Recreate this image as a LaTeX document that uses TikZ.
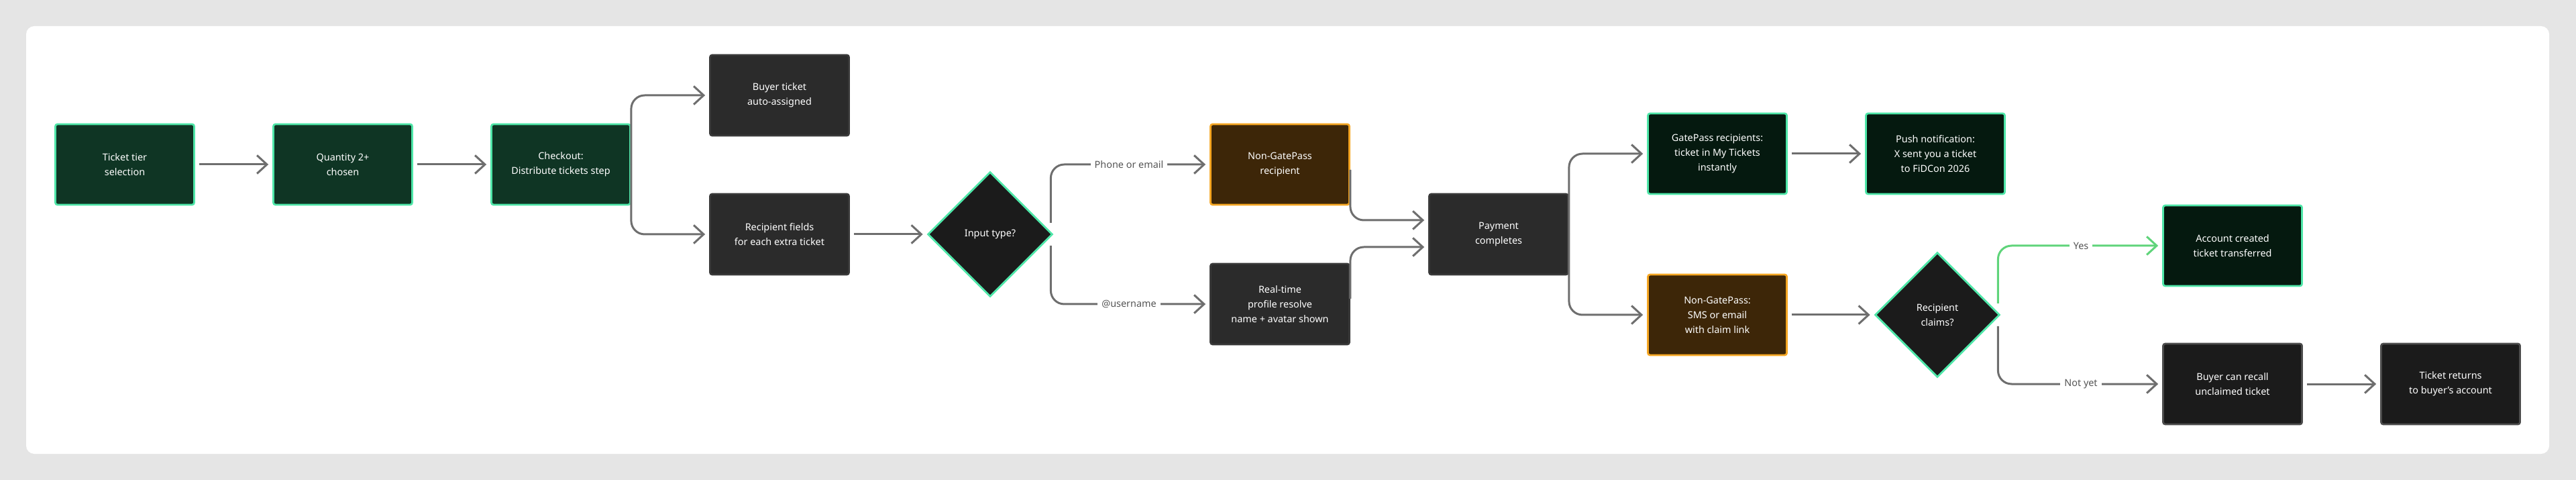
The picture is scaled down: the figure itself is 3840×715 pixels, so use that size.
\documentclass[tikz,border=0pt]{standalone}
\usepackage{fontspec}
\setmainfont{Noto Sans}
\usetikzlibrary{arrows.meta,shapes.geometric,calc}
\definecolor{bg}{HTML}{E5E5E5}
\definecolor{mint}{HTML}{4EE6A8}
\definecolor{gfill}{HTML}{0F3524}
\definecolor{dgfill}{HTML}{05190F}
\definecolor{bfill}{HTML}{3D2608}
\definecolor{orng}{HTML}{F5A623}
\definecolor{gray1}{HTML}{2B2B2B}
\definecolor{gray2}{HTML}{1B1B1B}
\definecolor{edge}{HTML}{6E6E6E}
\definecolor{yesg}{HTML}{5FD47A}
\definecolor{lbl}{HTML}{555555}
\tikzset{
  x=0.25pt,y=-0.25pt,
  box/.style={rectangle,rounded corners=0.8pt,minimum width=51.75pt,minimum height=30pt,
    inner sep=1pt,align=center,text=white,line width=0.7pt,
    font=\fontsize{3.6pt}{5.5pt}\selectfont},
  green/.style={box,fill=gfill,draw=mint},
  dgreen/.style={box,fill=dgfill,draw=mint},
  brown/.style={box,fill=bfill,draw=orng},
  gbox/.style={box,fill=gray1,draw=gray!45!black},
  dbox/.style={box,fill=gray2,draw=gray!60!black},
  dia/.style={diamond,aspect=1,minimum size=46.5pt,inner sep=0pt,fill=gray2,draw=mint,
    line width=0.7pt,align=center,text=white,font=\fontsize{3.6pt}{5.5pt}\selectfont},
  arr/.style={draw=edge,line width=0.75pt,rounded corners=5pt,
    -{Straight Barb[length=3.7pt,width=6.8pt,line width=0.75pt]},shorten >=1.5pt},
  lab/.style={fill=white,text=lbl,inner sep=1.5pt,font=\fontsize{3.6pt}{4.5pt}\selectfont},
}
\begin{document}
\begin{tikzpicture}
\fill[bg] (0,0) rectangle (3840,715);
\useasboundingbox (0,0) rectangle (3840,715);
\fill[white,rounded corners=3pt] (39,39) rectangle (3800,676);

\node[green] (tier) at (186,245) {Ticket tier\\selection};
\node[green] (qty) at (511,245) {Quantity 2+\\chosen};
\node[green] (chk) at (836,245) {Checkout:\\Distribute tickets step};
\node[gbox] (buyer) at (1162,142) {Buyer ticket\\auto-assigned};
\node[gbox] (recf) at (1162,349) {Recipient fields\\for each extra ticket};
\node[dia] (inp) at (1476,349) {Input type?};
\node[brown] (ng) at (1908,245) {Non-GatePass\\recipient};
\node[gbox] (rt) at (1908,453) {Real-time\\profile resolve\\name + avatar shown};
\node[gbox] (pay) at (2234,349) {Payment\\completes};
\node[dgreen] (gp) at (2560,229) {GatePass recipients:\\ticket in My Tickets\\instantly};
\node[brown] (sms) at (2560,469) {Non-GatePass:\\SMS or email\\with claim link};
\node[dgreen] (push) at (2885,229) {Push notification:\\X sent you a ticket\\to FiDCon 2026};
\node[dia] (rc) at (2888,469) {Recipient\\claims?};
\node[dgreen] (acct) at (3328,366) {Account created\\ticket transferred};
\node[dbox] (recall) at (3328,572) {Buyer can recall\\unclaimed ticket};
\node[dbox] (ret) at (3653,572) {Ticket returns\\to buyer's account};

\draw[arr,shorten <=1.5pt] (tier) -- (qty);
\draw[arr,shorten <=1.5pt] (qty) -- (chk);
\draw[arr] (chk.east) |- (buyer.west);
\draw[arr] (chk.east) |- (recf.west);
\draw[arr,shorten <=1.5pt] (recf) -- (inp);
\draw[arr] ($(inp.east)+(-4,-17)$) |- (ng.west);
\draw[arr] ($(inp.east)+(-4,17)$) |- (rt.west);
\draw[arr] ($(ng.east)+(0,8)$) |- ($(pay.west)+(0,-21)$);
\draw[arr] ($(rt.east)+(0,-8)$) |- ($(pay.west)+(0,19)$);
\draw[arr] (pay.east) |- (gp.west);
\draw[arr] (pay.east) |- (sms.west);
\draw[arr,shorten <=1.5pt] (gp) -- (push);
\draw[arr,shorten <=1.5pt] (sms) -- (rc);
\draw[arr,draw=yesg] ($(rc.east)+(-4,-17)$) |- (acct.west);
\draw[arr] ($(rc.east)+(-4,17)$) |- (recall.west);
\draw[arr,shorten <=1.5pt] (recall) -- (ret);

\node[lab] (l1) at (1683,245) {Phone or email};
\node[lab] (l2) at (1683,453) {@username};
\node[lab] (l3) at (3102,366) {Yes};
\node[lab] (l4) at (3102,572) {Not yet};
\end{tikzpicture}
\end{document}
